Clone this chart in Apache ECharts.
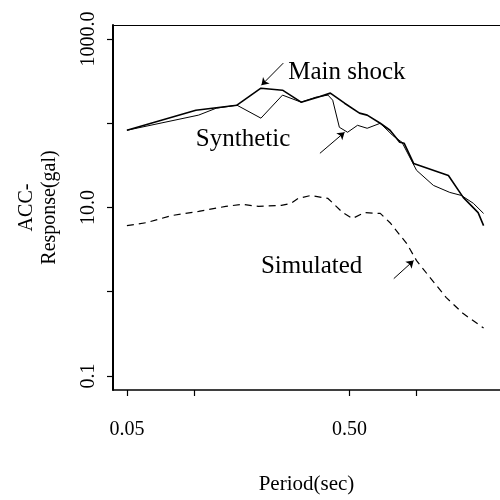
<!DOCTYPE html>
<html>
<head>
<meta charset="utf-8">
<script src="https://cdn.jsdelivr.net/npm/echarts@6/dist/echarts.min.js"></script>
<style>
  html, body { margin: 0; padding: 0; background: #fff; }
  #chart { width: 500px; height: 500px; }
</style>
</head>
<body>
<div id="chart"></div>
<script>
const FONT = '"Liberation Serif", "Times New Roman", serif';

// response spectra, period (sec) vs acceleration (gal)
const mainPeriod = [0.05, 0.102, 0.156, 0.2, 0.25, 0.303, 0.36, 0.41, 0.475, 0.554, 0.6, 0.687, 0.76, 0.84, 0.88, 0.97, 1.27, 1.39, 1.62, 1.89, 2.0];
const mainAcc    = [82.6, 143, 164, 261, 247, 178, 204, 228, 173, 132, 125, 100, 82.6, 59.4, 57.8, 33.4, 26.1, 24.0, 13.2, 8.7, 6.1];

const synPeriod = [0.05, 0.105, 0.126, 0.156, 0.2, 0.25, 0.303, 0.353, 0.4, 0.42, 0.45, 0.49, 0.543, 0.6, 0.687, 0.78, 0.86, 1.0, 1.19, 1.41, 1.59, 1.8, 2.0];
const synAcc    = [82.6, 125, 151, 164, 115, 216, 178, 204, 216, 188, 89.6, 78.2, 94.6, 87.2, 100, 72, 59.4, 27.6, 18.3, 15.1, 13.9, 11.2, 8.5];

const simPeriod = [0.05, 0.061, 0.079, 0.105, 0.139, 0.164, 0.195, 0.247, 0.273, 0.294, 0.335, 0.4, 0.466, 0.515, 0.583, 0.687, 0.76, 0.905, 1.0, 1.15, 1.36, 1.62, 2.0];
const simAcc    = [6.1, 6.6, 8.0, 9.0, 10.3, 10.9, 10.3, 10.6, 11.2, 12.8, 13.9, 12.8, 8.7, 7.4, 8.7, 8.5, 6.6, 3.7, 2.34, 1.47, 0.85, 0.55, 0.37];

const xTicks  = [0.05, 0.1, 0.5, 1.0];
const xLabels = [0.05, 0.5];
const yTicks  = [0.1, 1, 10, 100, 1000];
const yLabels = [0.1, 10, 1000];

// annotations: text anchor, arrow tail, arrow head (data coords)
const notes = [
  { text: 'Main shock', at: [0.265, 405], from: [0.252, 518], to: [0.201, 283] },
  { text: 'Synthetic',  at: [0.102, 64.5], from: [0.368, 44], to: [0.475, 78.2] },
  { text: 'Simulated',  at: [0.2, 1.99],  from: [0.79, 1.43], to: [0.97, 2.34] }
];

const zip = (xs, ys) => xs.map((x, i) => [x, ys[i]]);

const chart = echarts.init(document.getElementById('chart'));

const X_MIN = 0.0433, X_MAX = 2.37;

chart.setOption({
  animation: false,
  backgroundColor: '#fff',
  grid: { left: 113, top: 25, right: -4, bottom: 109 },
  xAxis: [
    {
      type: 'log', logBase: 10, min: X_MIN, max: X_MAX,
      name: 'Period(sec)', nameLocation: 'middle', nameGap: 84,
      nameTextStyle: { fontFamily: FONT, fontSize: 21, color: '#000' },
      axisLine: { lineStyle: { color: '#000', width: 1.5 } },
      axisTick: { customValues: xTicks, length: 6, lineStyle: { color: '#000', width: 1.2 } },
      axisLabel: {
        customValues: xLabels, margin: 30,
        fontFamily: FONT, fontSize: 20, color: '#000',
        formatter: v => v.toFixed(2)
      },
      splitLine: { show: false },
      minorTick: { show: false }
    },
    {
      // top frame line only
      type: 'log', logBase: 10, min: X_MIN, max: X_MAX, position: 'top',
      axisLine: { lineStyle: { color: '#000', width: 1.2 } },
      axisTick: { show: false }, axisLabel: { show: false },
      splitLine: { show: false }, minorTick: { show: false }
    }
  ],
  yAxis: {
    type: 'log', logBase: 10, min: 0.0681, max: 1468,
    name: 'ACC-\nResponse(gal)', nameLocation: 'middle', nameRotate: 90, nameGap: 52,
    nameTextStyle: { fontFamily: FONT, fontSize: 20, color: '#000', lineHeight: 23, align: 'center' },
    axisLine: { lineStyle: { color: '#000', width: 2 } },
    axisTick: { customValues: yTicks, length: 6, lineStyle: { color: '#000', width: 1.2 } },
    axisLabel: {
      customValues: yLabels, rotate: 90, margin: 14,
      fontFamily: FONT, fontSize: 20, color: '#000',
      formatter: v => v.toFixed(1)
    },
    splitLine: { show: false },
    minorTick: { show: false }
  },
  series: [
    {
      name: 'Main shock', type: 'line', data: zip(mainPeriod, mainAcc),
      showSymbol: false, lineStyle: { color: '#000', width: 1.6 }
    },
    {
      name: 'Synthetic', type: 'line', data: zip(synPeriod, synAcc),
      showSymbol: false, lineStyle: { color: '#000', width: 1 }
    },
    {
      name: 'Simulated', type: 'line', data: zip(simPeriod, simAcc),
      showSymbol: false, lineStyle: { color: '#000', width: 1.2, type: [7, 5] },
      markLine: {
        silent: true,
        symbol: ['none', 'arrow'], symbolSize: 7,
        label: { show: false },
        lineStyle: { color: '#000', width: 1, type: 'solid' },
        data: notes.map(n => [{ coord: n.from }, { coord: n.to }])
      },
      markPoint: {
        silent: true,
        symbol: 'circle', symbolSize: 0,
        label: {
          show: true, position: 'right', distance: 0,
          fontFamily: FONT, fontSize: 25, color: '#000',
          formatter: p => p.name
        },
        data: notes.map(n => ({ name: n.text, coord: n.at }))
      }
    }
  ]
});

window.addEventListener('resize', () => chart.resize());
</script>
</body>
</html>
